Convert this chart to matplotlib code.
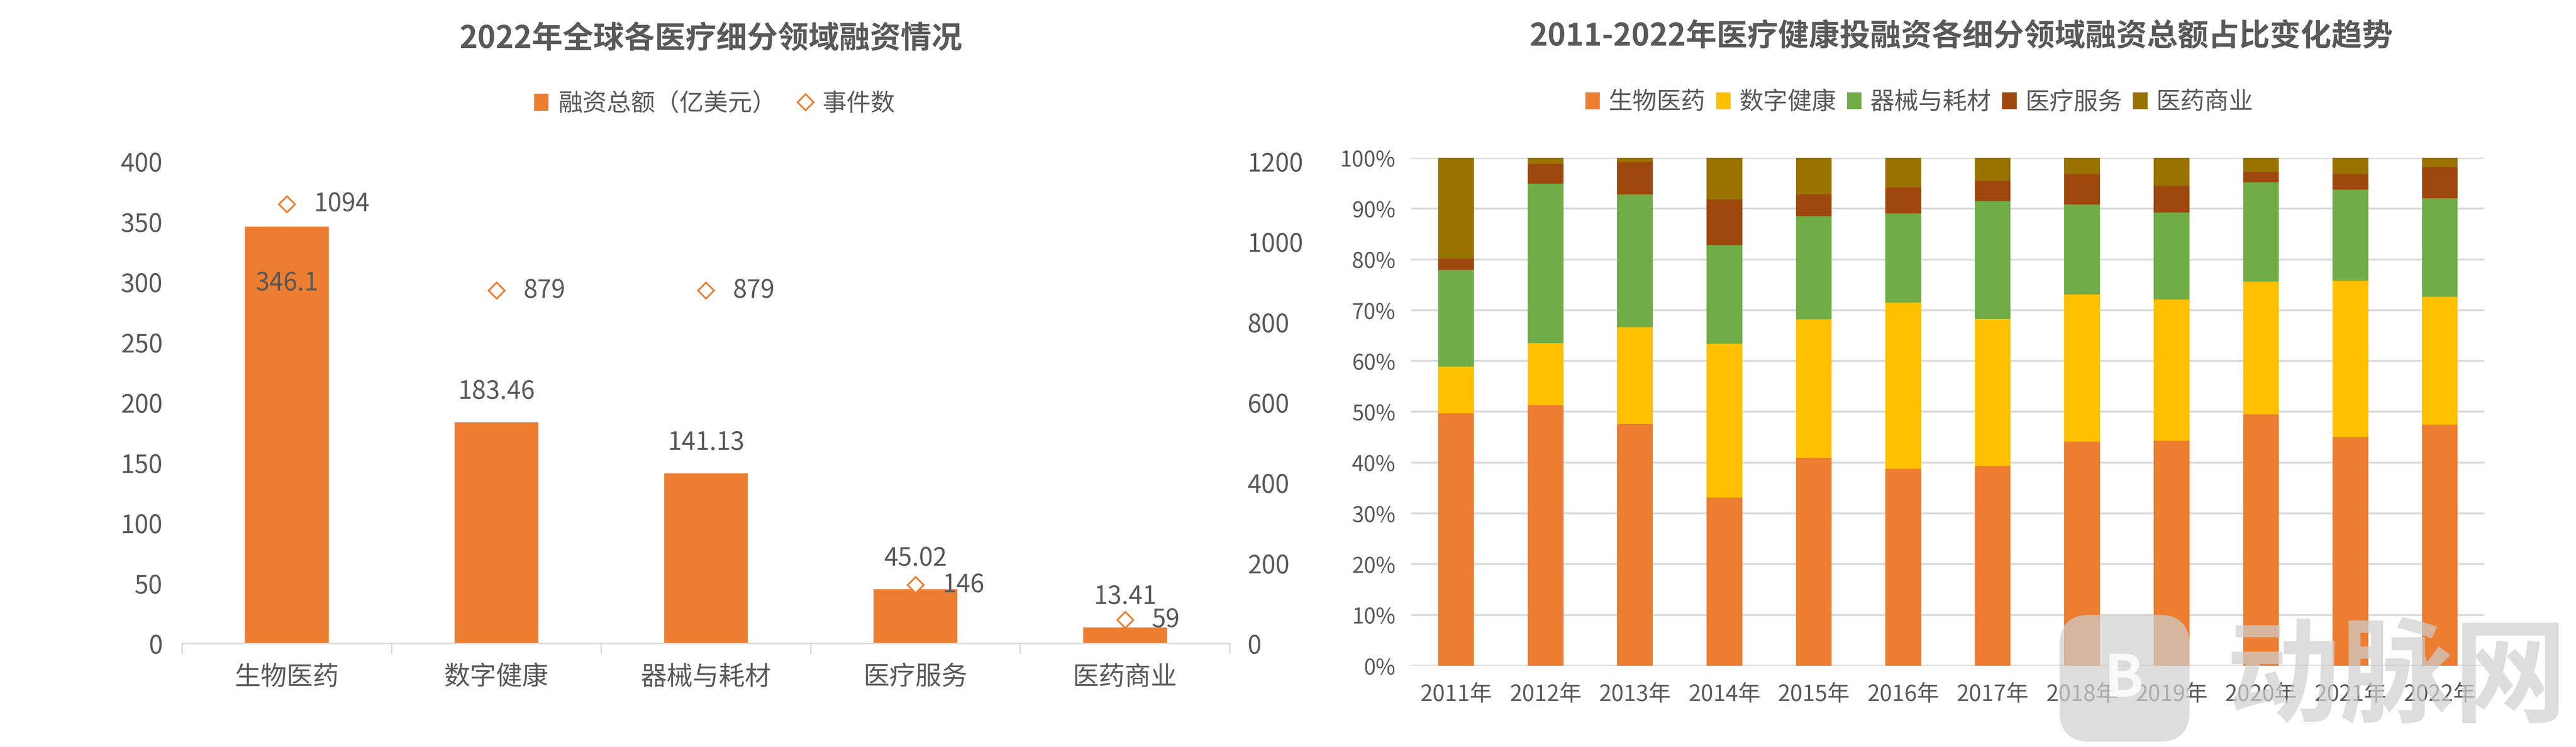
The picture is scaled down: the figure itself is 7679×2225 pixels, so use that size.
import matplotlib
matplotlib.use("Agg")
import matplotlib.pyplot as plt
from matplotlib.patches import Patch, FancyBboxPatch
from matplotlib.lines import Line2D
from matplotlib.ticker import FixedLocator, PercentFormatter

plt.rcParams['font.family'] = ['Noto Sans CJK SC', 'DejaVu Sans']

# ---------------- data ----------------
categories = ['生物医药', '数字健康', '器械与耗材', '医疗服务', '医药商业']
amounts = [346.1, 183.46, 141.13, 45.02, 13.41]          # 融资总额（亿美元）
events = [1094, 879, 879, 146, 59]                        # 事件数
amount_labels = ['346.1', '183.46', '141.13', '45.02', '13.41']

years = ['2011年', '2012年', '2013年', '2014年', '2015年', '2016年',
         '2017年', '2018年', '2019年', '2020年', '2021年', '2022年']
series_names = ['生物医药', '数字健康', '器械与耗材', '医疗服务', '医药商业']
bio = [49.7, 51.3, 47.6, 33.1, 40.9, 38.8, 39.3, 44.1, 44.3, 49.5, 45.0, 47.47]
digital = [9.2, 12.2, 19.0, 30.3, 27.3, 32.7, 29.0, 29.0, 27.8, 26.1, 30.8, 25.16]
device = [19.0, 31.4, 26.2, 19.4, 20.3, 17.5, 23.2, 17.7, 17.1, 19.6, 17.9, 19.36]
service = [2.2, 3.9, 6.4, 9.0, 4.3, 5.2, 4.0, 6.0, 5.3, 2.0, 3.1, 6.17]
commerce = [19.9, 1.2, 0.8, 8.2, 7.2, 5.8, 4.5, 3.2, 5.5, 2.8, 3.2, 1.84]

# ---------------- style ----------------
ORANGE = '#ED7D31'
YELLOW = '#FFC000'
GREEN = '#70AD47'
BROWN = '#9E480E'
OLIVE = '#997300'
TXT = '#595959'
GRID = '#D9D9D9'
series_colors = [ORANGE, YELLOW, GREEN, BROWN, OLIVE]

DPI = 200
fig = plt.figure(figsize=(7679 / DPI, 2225 / DPI), dpi=DPI)
fig.patch.set_facecolor('white')

TICK_FS = 27
CAT_FS = 28
TITLE_FS = 33
LEG_FS = 26

# ---------------- left chart ----------------
ax1 = fig.add_axes([0.0707, 0.1384, 0.4067, 0.6454])
ax2 = ax1.twinx()
x = list(range(len(categories)))
ax1.bar(x, amounts, width=0.4, color=ORANGE, zorder=2)
ax1.set_xlim(-0.5, len(categories) - 0.5)
ax1.set_ylim(0, 400)
ax1.set_yticks(range(0, 401, 50))
ax2.set_ylim(0, 1200)
ax2.set_yticks(range(0, 1201, 200))

ax1.set_xticks(x)
ax1.set_xticklabels(categories)
ax1.xaxis.set_minor_locator(FixedLocator([i - 0.5 for i in range(len(categories) + 1)]))
ax1.tick_params(axis='x', which='major', length=0, pad=22, labelsize=CAT_FS, labelcolor=TXT)
ax1.tick_params(axis='x', which='minor', length=11, width=1.5, color=GRID, direction='out')
ax1.tick_params(axis='y', length=0, pad=21, labelsize=TICK_FS, labelcolor=TXT)
ax2.tick_params(axis='y', length=0, pad=19, labelsize=TICK_FS, labelcolor=TXT)

for ax in (ax1, ax2):
    for s in ('top', 'left', 'right'):
        ax.spines[s].set_visible(False)
ax1.spines['bottom'].set_color(GRID)
ax1.spines['bottom'].set_linewidth(1.5)
ax2.spines['bottom'].set_visible(False)

ax2.plot(x, events, linestyle='none', marker='D', markersize=12,
         markerfacecolor='white', markeredgecolor=ORANGE, markeredgewidth=1.8, zorder=3)

for i, (v, lab) in enumerate(zip(amounts, amount_labels)):
    off = -61 if i == 0 else 33
    ax1.annotate(lab, (i, v), xytext=(0, off), textcoords='offset points',
                 ha='center', va='center', fontsize=TICK_FS, color=TXT, zorder=4)
for i, ev in enumerate(events):
    ax2.annotate(str(ev), (i, ev), xytext=(29, 0), textcoords='offset points',
                 ha='left', va='center', fontsize=TICK_FS, color=TXT, zorder=4)

fig.text(0.276, 0.948, '2022年全球各医疗细分领域融资情况', ha='center', va='center',
         fontsize=TITLE_FS, fontweight='bold', color=TXT)
h1 = [Patch(facecolor=ORANGE, edgecolor='none'),
      Line2D([], [], linestyle='none', marker='D', markersize=12, markerfacecolor='white',
             markeredgecolor=ORANGE, markeredgewidth=1.8)]
fig.legend(h1, ['融资总额（亿美元）', '事件数'], loc='center', bbox_to_anchor=(0.2774, 0.861),
           ncol=2, frameon=False, fontsize=LEG_FS, labelcolor=TXT, handlelength=0.6,
           handleheight=0.7, handletextpad=0.4, columnspacing=0.9)

# ---------------- right chart ----------------
ax3 = fig.add_axes([0.5479, 0.1088, 0.4166, 0.6800])
xs = list(range(len(years)))
series = [bio, digital, device, service, commerce]
tot = [b + c + d + s + m for b, c, d, s, m in zip(bio, digital, device, service, commerce)]
bottom = [0.0] * len(years)
for name, vals, col in zip(series_names, series, series_colors):
    frac = [v / t for v, t in zip(vals, tot)]
    ax3.bar(xs, frac, width=0.4, bottom=bottom, color=col, label=name, zorder=2)
    bottom = [b + f for b, f in zip(bottom, frac)]

ax3.set_xlim(-0.5, len(years) - 0.5)
ax3.set_ylim(0, 1)
ax3.set_yticks([i / 10 for i in range(11)])
ax3.yaxis.set_major_formatter(PercentFormatter(1.0, decimals=0))
ax3.set_xticks(xs)
ax3.set_xticklabels(years)
ax3.grid(axis='y', color=GRID, linewidth=2, zorder=0)
ax3.set_axisbelow(True)
for s in ax3.spines.values():
    s.set_visible(False)
ax3.tick_params(axis='x', length=0, pad=19, labelsize=24, labelcolor=TXT)
ax3.tick_params(axis='y', length=0, pad=17, labelsize=23, labelcolor=TXT)

fig.text(0.7614, 0.951, '2011-2022年医疗健康投融资各细分领域融资总额占比变化趋势', ha='center',
         va='center', fontsize=TITLE_FS, fontweight='bold', color=TXT)
h3 = [Patch(facecolor=c, edgecolor='none') for c in series_colors]
fig.legend(h3, series_names, loc='center', bbox_to_anchor=(0.745, 0.863), ncol=5,
           frameon=False, fontsize=LEG_FS, labelcolor=TXT, handlelength=0.6,
           handleheight=0.7, handletextpad=0.35, columnspacing=0.45)

# ---------------- watermark ----------------
fig.patches.append(FancyBboxPatch((0.7995, 0.007), 0.0505, 0.170,
                                  boxstyle='round,pad=0,rounding_size=0.012',
                                  transform=fig.transFigure, facecolor='#CFCFCF',
                                  edgecolor='none', alpha=0.7, zorder=10,
                                  mutation_aspect=7679 / 2225))
fig.text(0.8245, 0.09, 'B', ha='center', va='center', fontsize=62, fontweight='bold',
         color='white', alpha=0.85, zorder=11)
fig.text(0.9305, 0.0894, '动脉网', ha='center', va='center', fontsize=122,
         fontweight='black', color='#CFCFCF', alpha=0.7, zorder=11)

fig.savefig('out.png', dpi=DPI, facecolor='white')
